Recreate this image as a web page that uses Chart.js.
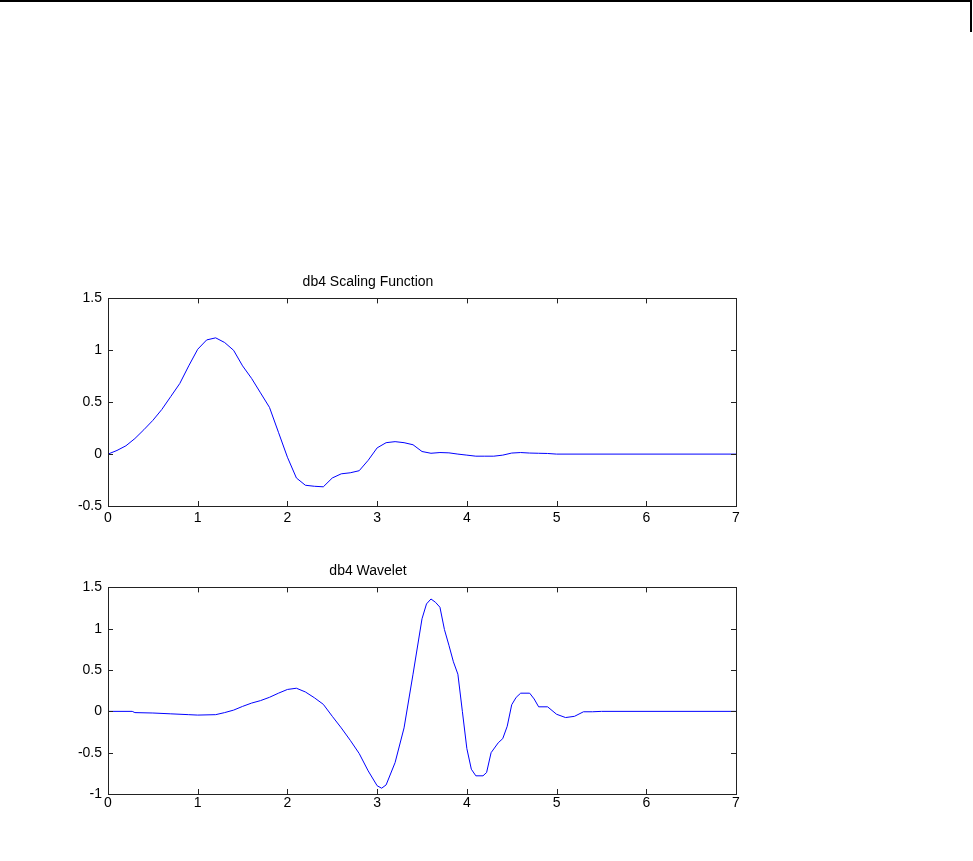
<!DOCTYPE html>
<html>
<head>
<meta charset="utf-8">
<title>db4</title>
<script src="https://cdn.jsdelivr.net/npm/chart.js@4.4.1/dist/chart.umd.min.js"></script>
<style>
  body { margin: 0; background: #fff; }
  #page { position: relative; width: 973px; height: 861px; overflow: hidden; }
  #top-line { position: absolute; left: 0; top: 0; width: 972px; height: 2px; background: #000; }
  #side-line { position: absolute; left: 970px; top: 0; width: 2px; height: 32px; background: #000; }
  canvas { position: absolute; left: 0; }
  #scaling-chart { top: 264px; }
  #wavelet-chart { top: 553px; }
</style>
</head>
<body>
<div id="page">
  <div id="top-line"></div>
  <div id="side-line"></div>
  <canvas id="scaling-chart" width="780" height="272"></canvas>
  <canvas id="wavelet-chart" width="780" height="271"></canvas>
</div>
<script>
'use strict';

// ******* DATA *******************************

let scalingX = [0, 0.1, 0.2, 0.3, 0.4, 0.5, 0.6, 0.7, 0.8, 0.9, 1.0, 1.1, 1.2, 1.3, 1.4, 1.5, 1.6, 1.7, 1.8, 1.9,
  2.0, 2.1, 2.2, 2.3, 2.4, 2.5, 2.6, 2.7, 2.8, 2.9, 3.0, 3.1, 3.2, 3.3, 3.4, 3.5, 3.6, 3.7, 3.8, 3.9,
  4.0, 4.1, 4.2, 4.3, 4.4, 4.5, 4.6, 4.7, 4.8, 4.9, 5.0, 7.0];
let scalingY = [0, 0.035, 0.08, 0.15, 0.235, 0.325, 0.43, 0.555, 0.68, 0.85, 1.01, 1.1, 1.12, 1.075, 1.0, 0.85, 0.73, 0.59, 0.45, 0.21,
  -0.03, -0.23, -0.3, -0.31, -0.315, -0.23, -0.19, -0.18, -0.16, -0.06, 0.06, 0.11, 0.12, 0.11, 0.09, 0.025, 0.008, 0.015, 0.012, 0.0,
  -0.01, -0.02, -0.02, -0.02, -0.01, 0.01, 0.015, 0.01, 0.008, 0.006, 0, 0];

let waveletX = [0, 0.27, 0.3, 0.5, 0.7, 0.9, 1.0, 1.2, 1.3, 1.4, 1.5, 1.6, 1.7, 1.8, 1.9, 2.0, 2.1, 2.2, 2.3, 2.4,
  2.5, 2.6, 2.7, 2.8, 2.9, 3.0, 3.05, 3.1, 3.2, 3.3, 3.4, 3.5, 3.55, 3.6, 3.65, 3.7, 3.75, 3.8, 3.85, 3.9,
  3.95, 4.0, 4.05, 4.1, 4.18, 4.22, 4.27, 4.35, 4.4, 4.45, 4.5, 4.55, 4.6, 4.7, 4.75, 4.8, 4.9,
  5.0, 5.1, 5.2, 5.3, 5.4, 5.5, 7.0];
let waveletY = [0, 0, -0.015, -0.02, -0.03, -0.04, -0.045, -0.04, -0.015, 0.015, 0.06, 0.1, 0.13, 0.17, 0.22, 0.265, 0.28, 0.235, 0.165, 0.085,
  -0.06, -0.2, -0.35, -0.51, -0.72, -0.9, -0.93, -0.89, -0.62, -0.2, 0.45, 1.12, 1.3, 1.36, 1.32, 1.26, 0.99, 0.8, 0.6, 0.45,
  0.0, -0.45, -0.7, -0.78, -0.78, -0.74, -0.5, -0.38, -0.33, -0.18, 0.08, 0.17, 0.22, 0.22, 0.15, 0.055, 0.055,
  -0.035, -0.075, -0.06, -0.005, -0.005, 0, 0];

let xTicks = [0, 1, 2, 3, 4, 5, 6, 7];
let scalingTicks = [-0.5, 0, 0.5, 1, 1.5];
let waveletTicks = [-1, -0.5, 0, 0.5, 1, 1.5];

// ******* HELPERS ********

function toPoints(xs, ys){
  let pts = [];
  for(let i = 0; i < xs.length; i++){
    pts.push({x: xs[i], y: ys[i]});
  }
  return pts;
}

// box round the axes with inward ticks on all four sides
let boxPlugin = {
  id: 'boxPlugin',
  afterDraw(chart){
    let ctx = chart.ctx;
    let a = chart.chartArea;
    let xs = chart.scales.x;
    let ys = chart.scales.y;
    let len = 5;
    ctx.save();
    ctx.strokeStyle = '#222';
    ctx.lineWidth = 1;
    ctx.beginPath();
    xs.ticks.forEach(t => {
      let px = Math.round(xs.getPixelForValue(t.value)) + 0.5;
      ctx.moveTo(px, a.bottom); ctx.lineTo(px, a.bottom - len);
      ctx.moveTo(px, a.top); ctx.lineTo(px, a.top + len);
    });
    ys.ticks.forEach(t => {
      let py = Math.round(ys.getPixelForValue(t.value)) + 0.5;
      ctx.moveTo(a.left, py); ctx.lineTo(a.left + len, py);
      ctx.moveTo(a.right, py); ctx.lineTo(a.right - len, py);
    });
    ctx.stroke();
    ctx.strokeRect(Math.round(a.left) + 0.5, Math.round(a.top) + 0.5,
      Math.round(a.right - a.left), Math.round(a.bottom - a.top));
    ctx.restore();
  }
};

let tickFont = { family: 'Liberation Sans, Arial, sans-serif', size: 14 };

function makeChart(canvasId, title, xs, ys, yTicks, xPad){
  let ctx = document.getElementById(canvasId);
  let chartObj = {
    type: 'line',
    data: {
      datasets: [{
        data: toPoints(xs, ys),
        borderColor: '#0000ff',
        borderWidth: 1,
        pointRadius: 0,
        tension: 0,
        fill: false
      }]
    },
    options: {
      responsive: false,
      animation: false,
      events: [],
      layout: { padding: { top: 10, right: 44, left: 0, bottom: 0 } },
      plugins: {
        legend: { display: false },
        tooltip: { enabled: false },
        title: {
          display: true,
          text: title,
          color: '#000',
          font: { family: 'Liberation Sans, Arial, sans-serif', size: 14, weight: 'normal' },
          padding: { top: 0, bottom: 7.6 }
        }
      },
      scales: {
        x: {
          type: 'linear',
          min: xTicks[0],
          max: xTicks[xTicks.length - 1],
          afterBuildTicks: s => { s.ticks = xTicks.map(v => ({value: v})); },
          afterFit: s => { s.height = 30; },
          grid: { display: false, drawTicks: false },
          border: { display: false },
          ticks: {
            color: '#000',
            padding: xPad,
            maxRotation: 0,
            callback: v => String(v),
            font: tickFont
          }
        },
        y: {
          type: 'linear',
          min: yTicks[0],
          max: yTicks[yTicks.length - 1],
          afterBuildTicks: s => { s.ticks = yTicks.map(v => ({value: v})); },
          afterFit: s => { s.width = 108; },
          grid: { display: false, drawTicks: false },
          border: { display: false },
          ticks: {
            color: '#000',
            padding: 6,
            callback: v => String(v),
            font: tickFont
          }
        }
      }
    },
    plugins: [boxPlugin]
  };
  return new Chart(ctx, chartObj); //eslint-disable-line
}

// ***** EXECUTABLE CODE ******
makeChart('scaling-chart', 'db4 Scaling Function', scalingX, scalingY, scalingTicks, 4);
makeChart('wavelet-chart', 'db4 Wavelet', waveletX, waveletY, waveletTicks, 1);
</script>
</body>
</html>
